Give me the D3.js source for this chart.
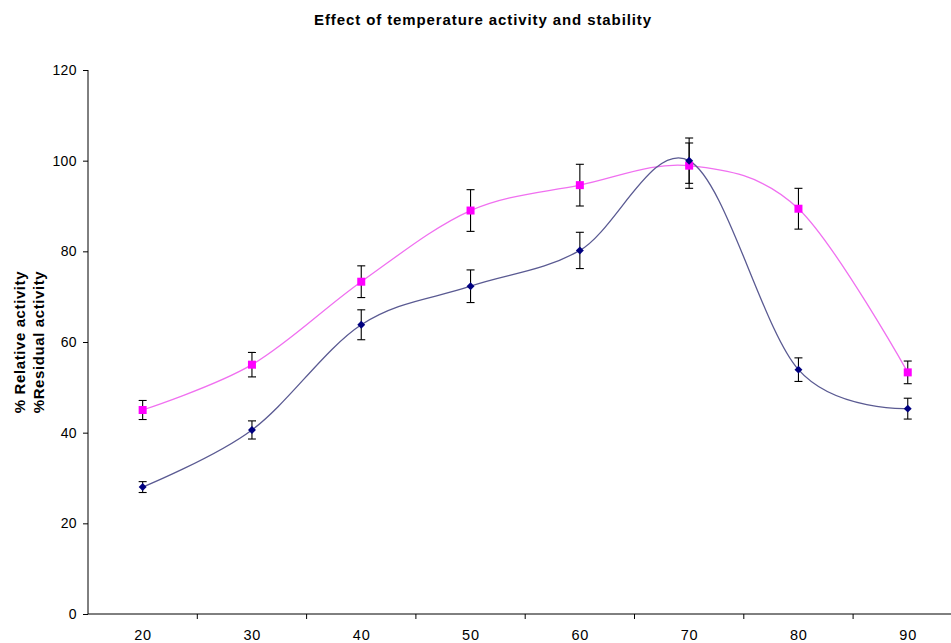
<!DOCTYPE html>
<html>
<head>
<meta charset="utf-8">
<script src="https://cdn.jsdelivr.net/npm/d3@7"></script>
<style>
  html, body { margin: 0; padding: 0; background: #fff; }
  svg { display: block; font-family: "Liberation Sans", Arial, sans-serif; }
</style>
</head>
<body>
<svg id="chart" width="951" height="643"></svg>
<script>
// Temperature (°C) categories
const temperatures = [20, 30, 40, 50, 60, 70, 80, 90];

// % relative activity (enzyme activity at each temperature)
const relativeActivity = [28, 40.6, 63.8, 72.3, 80.2, 100, 53.9, 45.3];
const relativeError    = [1.2, 2.0, 3.3, 3.6, 4.0, 5.0, 2.6, 2.3];

// % residual activity (stability after incubation)
const residualActivity = [45, 55, 73.3, 89, 94.6, 98.9, 89.4, 53.3];
const residualError    = [2.1, 2.7, 3.5, 4.6, 4.6, 5.0, 4.5, 2.5];

const yTicks = [0, 20, 40, 60, 80, 100, 120];

const svg = d3.select("#chart");
const plot = { left: 88, top: 70, bottom: 614, band: 109.3 };

const x = d3.scaleBand()
  .domain(temperatures)
  .range([plot.left, plot.left + plot.band * temperatures.length])
  .paddingInner(0).paddingOuter(0);

const y = d3.scaleLinear().domain([0, 120]).range([plot.bottom, plot.top]);

const cx = d => x(d) + x.bandwidth() / 2;

// Title
svg.append("text")
  .attr("x", 483).attr("y", 25)
  .attr("text-anchor", "middle")
  .attr("font-size", 15).attr("font-weight", "bold")
  .attr("letter-spacing", 0.9)
  .text("Effect of temperature activity and stability");

// Y axis
const yAxis = svg.append("g")
  .attr("transform", `translate(${plot.left},0)`)
  .call(d3.axisLeft(y).tickValues(yTicks).tickSize(5).tickPadding(6).tickFormat(d3.format("d")));
yAxis.select(".domain").attr("d", `M0,${plot.top}V${plot.bottom}`).attr("stroke", "#000");
yAxis.selectAll(".tick line").attr("stroke", "#000");
yAxis.selectAll(".tick text")
  .attr("font-size", 14).attr("letter-spacing", 0.4).attr("fill", "#000")
  .attr("font-family", "Liberation Sans, Arial, sans-serif");

// X axis: baseline with tick marks between categories
const xAxis = svg.append("g").attr("transform", `translate(0,${plot.bottom})`);
xAxis.append("line")
  .attr("x1", plot.left).attr("x2", 951)
  .attr("stroke", "#000");
temperatures.forEach(t => {
  xAxis.append("line")
    .attr("x1", x(t) + x.bandwidth()).attr("x2", x(t) + x.bandwidth())
    .attr("y1", 0).attr("y2", 5).attr("stroke", "#000");
  xAxis.append("text")
    .attr("x", cx(t) + 0.4).attr("y", 25.5)
    .attr("text-anchor", "middle")
    .attr("font-size", 14.5).attr("letter-spacing", 0.8)
    .text(t);
});

// Y axis title (two lines)
const yTitle = svg.append("text")
  .attr("transform", `translate(0,${(plot.top + plot.bottom) / 2}) rotate(-90)`)
  .attr("text-anchor", "middle")
  .attr("font-size", 15).attr("font-weight", "bold")
  .attr("letter-spacing", 0.6);
yTitle.append("tspan").attr("x", 0).attr("y", 24.5).text("% Relative activity");
yTitle.append("tspan").attr("x", 0).attr("y", 43.5).text("%Residual activity");

// Smoothed lines
const line = d3.line().curve(d3.curveCardinal.tension(0));
const series = [
  { values: residualActivity, errors: residualError, stroke: "#f070f0", fill: "#ff00ff", shape: "square" },
  { values: relativeActivity, errors: relativeError, stroke: "#5a5a92", fill: "#000080", shape: "diamond" }
];

series.forEach(s => {
  const pts = temperatures.map((t, i) => [cx(t), y(s.values[i])]);
  svg.append("path")
    .attr("d", line(pts))
    .attr("fill", "none")
    .attr("stroke", s.stroke)
    .attr("stroke-width", 1.3);
});

// Error bars
series.forEach(s => {
  const g = svg.append("g").attr("stroke", "#000").attr("stroke-width", 1.1);
  temperatures.forEach((t, i) => {
    const px = cx(t);
    const hi = y(s.values[i] + s.errors[i]);
    const lo = y(s.values[i] - s.errors[i]);
    g.append("line").attr("x1", px).attr("x2", px).attr("y1", hi).attr("y2", lo);
    g.append("line").attr("x1", px - 4).attr("x2", px + 4).attr("y1", hi).attr("y2", hi);
    g.append("line").attr("x1", px - 4).attr("x2", px + 4).attr("y1", lo).attr("y2", lo);
  });
});

// Markers
series.forEach(s => {
  const sym = s.shape === "square"
    ? d3.symbol().type(d3.symbolSquare).size(64)
    : d3.symbol().type(d3.symbolDiamond2).size(40);
  svg.append("g").selectAll("path")
    .data(temperatures.map((t, i) => [cx(t), y(s.values[i])]))
    .join("path")
    .attr("transform", d => `translate(${d[0]},${d[1]})`)
    .attr("d", sym)
    .attr("fill", s.fill);
});
</script>
</body>
</html>
